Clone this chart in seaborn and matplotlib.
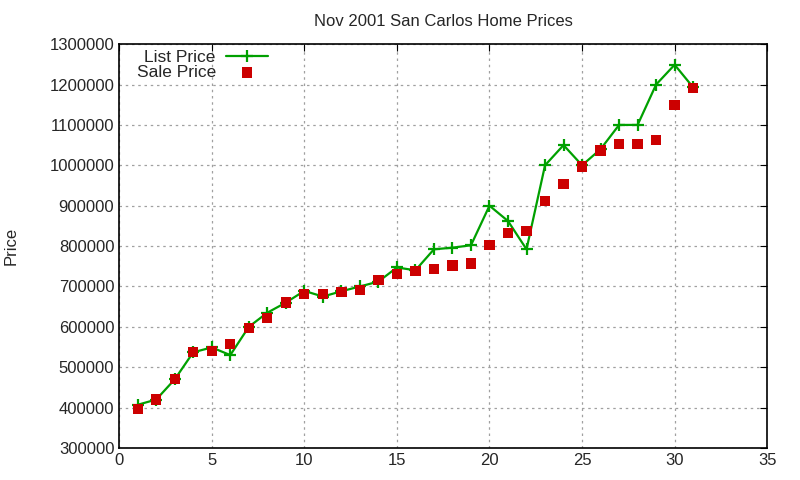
import numpy as np
import pandas as pd
import matplotlib
matplotlib.use("Agg")
import matplotlib.pyplot as plt
import seaborn as sns

# --- DATA
days = list(range(1, 32))
list_price = [407000, 420000, 470000, 537000, 549000, 530000, 600000, 635000, 660000, 689000,
              675000, 688000, 700000, 712000, 747000, 740000, 792000, 796000, 802000, 900000,
              862000, 792000, 1000000, 1050000, 1000000, 1040000, 1100000, 1100000, 1200000, 1249000,
              1193000]
sale_price = [397000, 420000, 470000, 538000, 541000, 557000, 597000, 622000, 660000, 682000,
              681000, 687000, 692000, 716000, 731000, 739000, 743000, 752000, 757000, 802000,
              832000, 837000, 911000, 953000, 997000, 1037000, 1052000, 1052000, 1062000, 1150000,
              1191000]

df = pd.DataFrame({'day': days, 'list': list_price, 'sale': sale_price})

sns.set_style("white")
plt.rcParams['font.family'] = ['Liberation Sans', 'DejaVu Sans']

fig = plt.figure(figsize=(8, 4.8), dpi=100)
ax = fig.add_axes([0.149, 0.0667, 0.81, 0.8413])

sns.lineplot(data=df, x='day', y='list', ax=ax, color='#00a000', linewidth=1.6,
             marker='+', markersize=9, markeredgewidth=1.6, markeredgecolor='#00a000',
             label='List Price')
sns.scatterplot(data=df, x='day', y='sale', ax=ax, color='#cc0000', marker='s', s=55,
                edgecolor='none', label='Sale Price', zorder=3)

ax.set_xlim(0, 35)
ax.set_ylim(300000, 1300000)
ax.set_xticks(np.arange(0, 36, 5))
ax.set_yticks(np.arange(300000, 1300001, 100000))
ax.ticklabel_format(style='plain', axis='y')
ax.grid(True, color='#a0a0a0', linestyle=(0, (2, 3)), linewidth=0.9)
ax.tick_params(direction='in', top=True, right=True, length=5, labelsize=12, color='black')
for s in ax.spines.values():
    s.set_color('black')
    s.set_linewidth(1.2)

ax.set_xlabel('')
ax.set_ylabel('Price', fontsize=12, labelpad=22)
ax.set_title('Nov 2001 San Carlos Home Prices', fontsize=12, pad=13)

leg = ax.legend(loc='upper left', bbox_to_anchor=(0.016, 1.003), markerfirst=False, frameon=False,
                fontsize=12.5, handlelength=2.4, handletextpad=0.6, borderaxespad=0.0,
                labelspacing=0.0)
# right-align the labels like gnuplot does
for col in leg._legend_handle_box.get_children():
    col.align = 'right'

fig.savefig('out.png', dpi=100)
